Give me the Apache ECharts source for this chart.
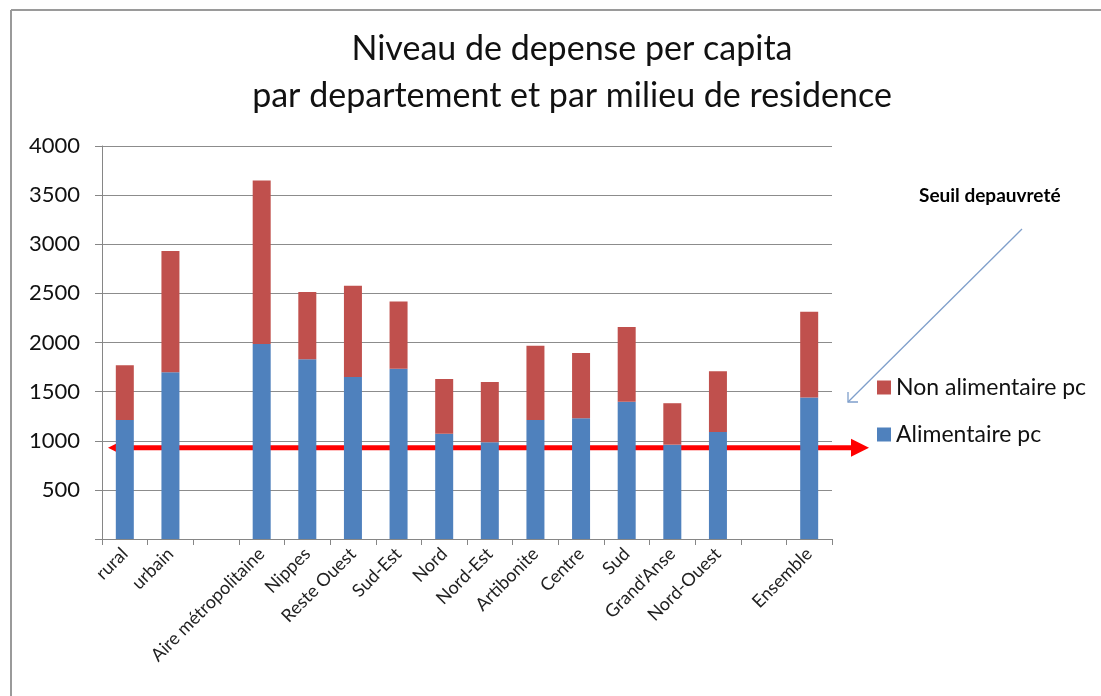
<!DOCTYPE html>
<html>
<head>
<meta charset="utf-8">
<script src="https://cdn.jsdelivr.net/npm/echarts@6/dist/echarts.min.js"></script>
<style>
  html, body { margin: 0; padding: 0; background: #fff; overflow: hidden; }
  #main { width: 1101px; height: 696px; }
</style>
</head>
<body>
<div id="main"></div>
<script>
// data (blank slots keep the gaps between groups)
const categories = ['rural', 'urbain', '', 'Aire métropolitaine', 'Nippes', 'Reste Ouest', 'Sud-Est',
  'Nord', 'Nord-Est', 'Artibonite', 'Centre', 'Sud', "Grand'Anse", 'Nord-Ouest', '', 'Ensemble']
const alimentaire = [1212, 1697, '-', 1984, 1829, 1649, 1733, 1070, 985, 1212, 1229, 1398, 960, 1090, '-', 1439]
const totals = [1768, 2932, '-', 3648, 2513, 2577, 2418, 1629, 1598, 1967, 1893, 2157, 1382, 1707, '-', 2312]
const nonAlimentaire = totals.map((t, i) => t === '-' ? '-' : t - alimentaire[i])
const seuil = 930
const yTicks = { min: 0, max: 4000, interval: 500 }

const font = 'Lato, "Open Sans", sans-serif'
const chart = echarts.init(document.getElementById('main'))

const option = {
  backgroundColor: '#fff',
  animation: false,
  title: {
    text: 'Niveau de depense per capita\npar departement et par milieu de residence',
    left: 567,
    top: 21,
    textAlign: 'center',
    textStyle: { fontFamily: font, fontSize: 34, fontWeight: 'normal', color: '#111', lineHeight: 47 }
  },
  legend: {
    data: ['Non alimentaire pc', 'Alimentaire pc'],
    orient: 'vertical',
    left: 872,
    top: 371,
    icon: 'rect',
    itemWidth: 14,
    itemHeight: 14,
    itemGap: 24,
    textStyle: { fontFamily: font, fontSize: 23, color: '#111' }
  },
  grid: { left: 102, right: 269, top: 146, bottom: 157 },
  xAxis: {
    type: 'category',
    data: categories,
    axisLine: { lineStyle: { color: '#868686' } },
    axisTick: { show: true, length: 6, lineStyle: { color: '#868686' } },
    axisLabel: { rotate: 45, interval: 0, fontFamily: font, fontSize: 18, color: '#222', margin: 12 }
  },
  yAxis: {
    type: 'value',
    min: yTicks.min,
    max: yTicks.max,
    interval: yTicks.interval,
    axisLine: { show: true, lineStyle: { color: '#868686' } },
    axisTick: { show: true, length: 7, lineStyle: { color: '#868686' } },
    splitLine: { lineStyle: { color: '#8c8c8c' } },
    axisLabel: {
      fontFamily: font, fontSize: 22, color: '#111', margin: 22,
      formatter: v => v === 0 ? '' : String(v)
    }
  },
  series: [
    {
      name: 'Alimentaire pc',
      type: 'bar',
      stack: 'total',
      barWidth: 18,
      itemStyle: { color: '#4f81bd' },
      data: alimentaire
    },
    {
      name: 'Non alimentaire pc',
      type: 'bar',
      stack: 'total',
      barWidth: 18,
      itemStyle: { color: '#c0504d' },
      data: nonAlimentaire
    }
  ]
}
chart.setOption(option)

// annotations: frame, poverty-line double arrow, callout
const ySeuil = chart.convertToPixel({ yAxisIndex: 0 }, seuil)
const x1 = 108, x2 = 869, head = 18, half = 9
chart.setOption({
  graphic: [
    {
      type: 'line', silent: true,
      shape: { x1: 11, y1: 10, x2: 1101, y2: 10 },
      style: { stroke: '#9a9a9a', lineWidth: 2 }
    },
    {
      type: 'line', silent: true,
      shape: { x1: 11, y1: 10, x2: 11, y2: 696 },
      style: { stroke: '#9a9a9a', lineWidth: 2 }
    },
    {
      type: 'line', silent: true,
      shape: { x1: x1 + head - 2, y1: ySeuil, x2: x2 - head + 2, y2: ySeuil },
      style: { stroke: '#ff0000', lineWidth: 5 }
    },
    {
      type: 'polygon', silent: true,
      shape: { points: [[x1, ySeuil], [x1 + head, ySeuil - half], [x1 + head, ySeuil + half]] },
      style: { fill: '#ff0000' }
    },
    {
      type: 'polygon', silent: true,
      shape: { points: [[x2, ySeuil], [x2 - head, ySeuil - half], [x2 - head, ySeuil + half]] },
      style: { fill: '#ff0000' }
    },
    {
      type: 'text', silent: true,
      left: 919, top: 186,
      style: { text: 'Seuil depauvreté', font: 'bold 19px ' + font, fill: '#000' }
    },
    {
      type: 'line', silent: true,
      shape: { x1: 1022, y1: 229, x2: 848, y2: 402 },
      style: { stroke: '#7f9fcb', lineWidth: 1.3 }
    },
    {
      type: 'polyline', silent: true,
      shape: { points: [[848, 392], [848, 402], [858, 402]] },
      style: { stroke: '#7f9fcb', lineWidth: 1.3, fill: null }
    }
  ]
})
</script>
</body>
</html>
